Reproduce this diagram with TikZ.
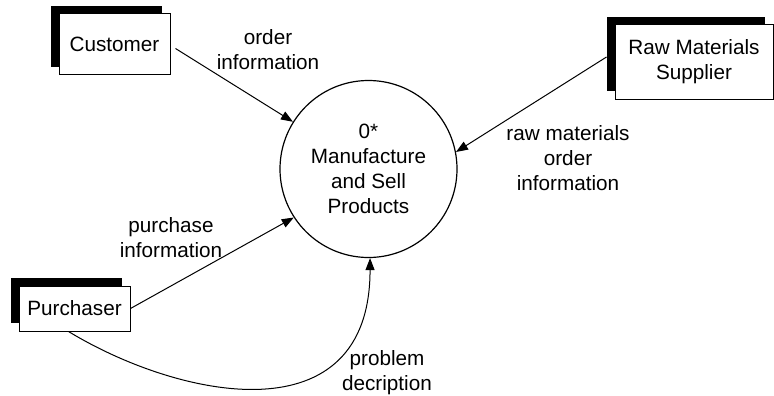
\documentclass[tikz,border=0pt]{standalone}
\usepackage{fontspec}
\setmainfont{Liberation Sans}
\usepackage{tikz}
\usetikzlibrary{arrows.meta}
\usetikzlibrary{shadows}
\newcommand{\dfdfont}{\fontsize{20.7pt}{25pt}\selectfont}
\tikzset{
  entity/.style={draw, line width=1pt, fill=white, align=center, font=\dfdfont,
    general shadow={shadow xshift=-8pt, shadow yshift=8pt, fill=black}},
  proc/.style={draw, circle, line width=1.2pt, minimum size=177pt, inner sep=0pt, align=center, font=\dfdfont},
  rotulo/.style={align=center, font=\dfdfont},
  flow/.style={-{Triangle[length=12pt,width=9pt]}, line width=1pt},
}

\begin{document}
\begin{tikzpicture}[x=1pt, y=-1pt]
  \useasboundingbox (0,0) rectangle (774,396);
  \node[proc] (mfg) at (368.5,169) {0*\\Manufacture\\and Sell\\Products};
  \node[entity, minimum width=111pt, minimum height=61pt] (cust) at (114.5,44.5) {Customer};
  \node[entity, minimum width=158pt, minimum height=74pt] (raw) at (694,62) {Raw Materials\\Supplier};
  \node[entity, minimum width=111pt, minimum height=45pt] (purch) at (74.5,308.5) {Purchaser};
  \node[rotulo] (lorder) at (268,50) {order\\information};
  \node[rotulo] (lraw) at (568,158) {raw materials\\order\\information};
  \node[rotulo] (lpurch) at (171,238) {purchase\\information};
  \node[rotulo] (lprob) at (387,373) {problem\\decription};
  \draw[flow] ([xshift=5pt,yshift=-4pt]cust.east) -- (mfg.148);
  \draw[flow] ([xshift=-8pt,yshift=5pt]raw.west) -- (mfg.11);
  \draw[flow] (purch.east) -- (mfg.213);
  \draw[flow] ([xshift=-6pt]purch.south) .. controls +(112,68) and +(0,180) .. (mfg.-89);
\end{tikzpicture}
\end{document}
